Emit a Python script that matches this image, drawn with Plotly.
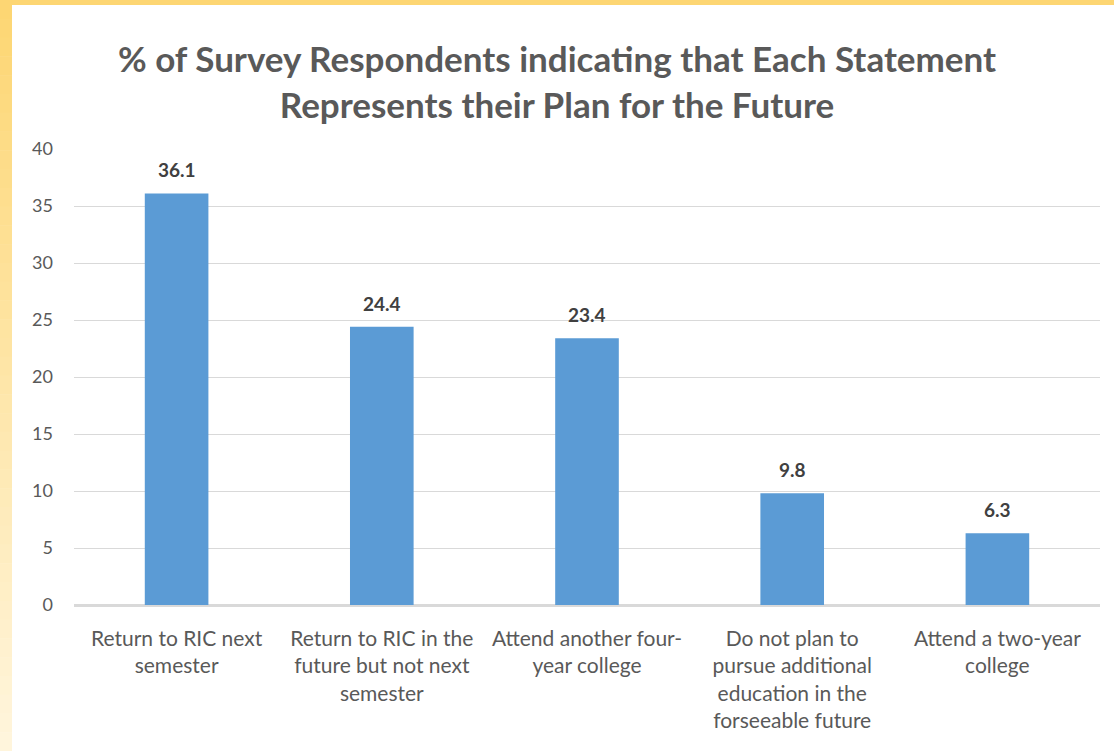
import plotly.graph_objects as go

categories = [
    "Return to RIC next<br>semester",
    "Return to RIC in the<br>future but not next<br>semester",
    "Attend another four-<br>year college",
    "Do not plan to<br>pursue additional<br>education in the<br>forseeable future",
    "Attend a two-year<br>college",
]
values = [36.1, 24.4, 23.4, 9.8, 6.3]
value_labels = ["36.1", "24.4", "23.4", "9.8", "6.3"]
y_ticks = [0, 5, 10, 15, 20, 25, 30, 35, 40]

W, H = 1114, 751
ML, MR, MT, MB = 74, 14, 149, 146
PW, PH = W - ML - MR, H - MT - MB

def px_x(p):
    return (p - ML) / PW

def px_y(p):
    return 1 - (p - MT) / PH

fig = go.Figure()
fig.add_trace(go.Bar(
    x=categories, y=values, width=0.31,
    marker=dict(color="#5B9BD5", line=dict(width=0)),
    hoverinfo="skip",
))

annotations = [
    dict(x=c, y=v, xref="x", yref="y", text=t, showarrow=False,
         yanchor="bottom", yshift=10,
         font=dict(family="Lato", size=19, color="#404040", weight="bold"))
    for c, v, t in zip(categories, values, value_labels)
]

# yellow frame, vertical gradient on the left strip
top_rgb = (253, 214, 115)
bot_rgb = (255, 245, 220)
shapes = []
n = 40
for i in range(n):
    f = i / (n - 1)
    r, g, b = [round(a + (bb - a) * f) for a, bb in zip(top_rgb, bot_rgb)]
    y0 = i * H / n
    y1 = (i + 1) * H / n + 0.5
    shapes.append(dict(type="rect", xref="paper", yref="paper", layer="below",
                       x0=px_x(0), x1=px_x(12), y0=px_y(y1), y1=px_y(y0),
                       fillcolor=f"rgb({r},{g},{b})", line=dict(width=0)))
shapes.append(dict(type="rect", xref="paper", yref="paper", layer="below",
                   x0=px_x(0), x1=px_x(W), y0=px_y(5), y1=px_y(0),
                   fillcolor="#FDD673", line=dict(width=0)))

fig.update_layout(
    width=W, height=H,
    margin=dict(l=ML, r=MR, t=MT, b=MB),
    paper_bgcolor="white", plot_bgcolor="white",
    title=dict(
        text="% of Survey Respondents indicating that Each Statement<br>Represents their Plan for the Future",
        x=0.5, xanchor="center", y=1 - 42 / H, yanchor="top",
        font=dict(family="Lato", size=35, color="#595959", weight="bold"),
        pad=dict(t=30),
    ),
    showlegend=False,
    shapes=shapes,
    annotations=annotations,
)
fig.update_yaxes(
    range=[0, 40], tickvals=y_ticks, showgrid=True, gridcolor="#D9D9D9", gridwidth=1,
    zeroline=True, zerolinecolor="#D9D9D9", zerolinewidth=1.5,
    tickfont=dict(family="Lato", size=18, color="#595959"),
    ticks="", ticklabelstandoff=20, showline=False,
)
fig.update_xaxes(
    tickfont=dict(family="Lato", size=21, color="#595959"),
    ticks="", showline=True, linecolor="#D9D9D9", linewidth=1.5,
    tickangle=0, ticklabelstandoff=14,
)
fig.write_html("out.html", config={"displayModeBar": False},
               post_script="document.body.style.margin='0';document.body.style.padding='0';")
